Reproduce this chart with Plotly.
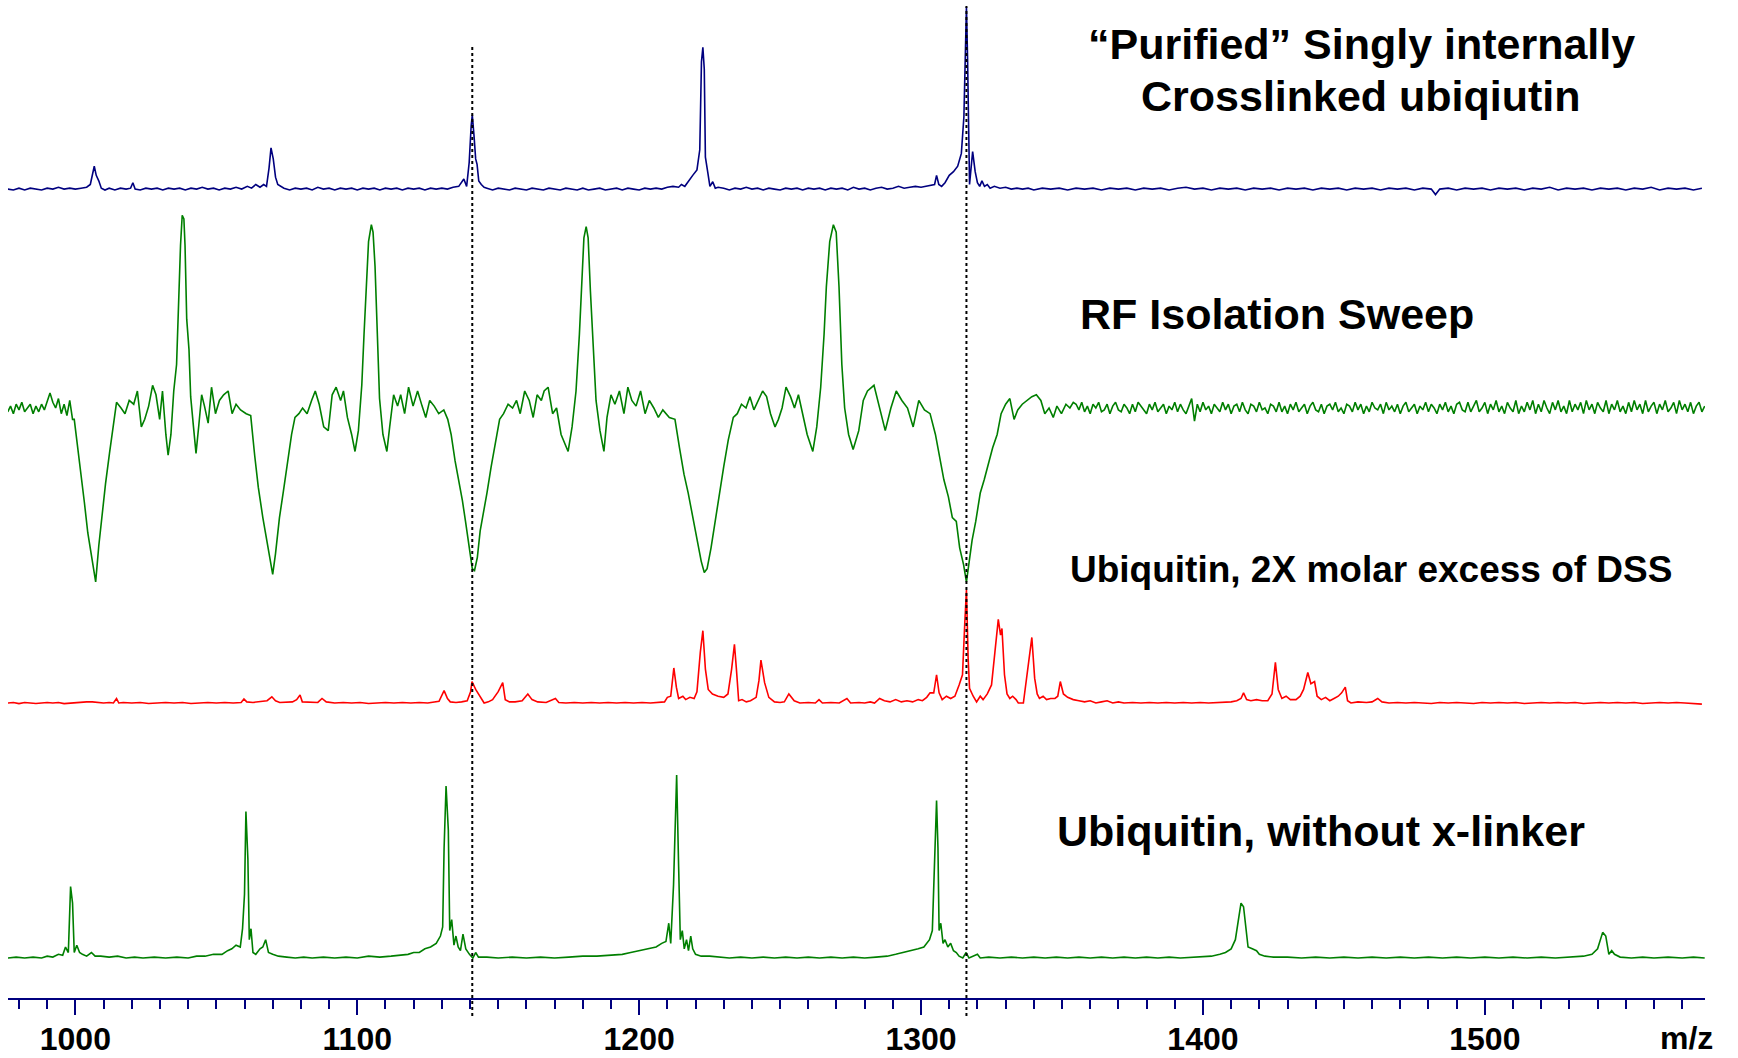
import plotly.graph_objects as go

# ---------------- data: (m/z, relative intensity %) ----------------
purified = [
    (976.0, 0.5), (978, 0), (980, 1), (982, 0), (984, 1), (986, 0.5), (988, 0), (990, 1), (992, 0.5), (994, 1.5),
    (996, 0.5), (998, 1), (1000, 0.5), (1002, 1), (1004, 1.5), (1005.3, 3), (1006.2, 10), (1006.7, 13), (1007.4, 8),
    (1008.3, 5), (1009.2, 1), (1010.5, 0), (1012, 1), (1014, 0), (1016, 1), (1018, 0.5), (1019.6, 1), (1020.4, 4),
    (1021.2, 0.5), (1023, 0), (1025, 1), (1027, 0.5), (1029, 1), (1031, 0), (1033, 1), (1035, 0.5), (1037, 1), (1039, 0),
    (1041, 1), (1043, 0.5), (1045, 1.5), (1047, 0.5), (1049, 1), (1051, 0), (1053, 1), (1055, 0.5), (1057, 1.5),
    (1059, 0.5), (1061, 2), (1062.5, 1), (1064, 3), (1065.5, 1.5), (1066.8, 3), (1067.8, 2), (1068.7, 12), (1069.4, 23),
    (1070.2, 17), (1071.0, 7), (1071.8, 3), (1072.8, 2), (1074, 1), (1076, 0), (1078, 1), (1080, 0.5), (1082, 1),
    (1084, 0), (1086, 1.5), (1088, 0.5), (1090, 1), (1092, 0), (1094, 1), (1096, 0.5), (1098, 1), (1100, 0), (1102, 1),
    (1104, 0.5), (1106, 1), (1108, 0), (1110, 1), (1112, 0.5), (1114, 1), (1116, 0), (1118, 1), (1120, 0.5), (1122, 1),
    (1124, 0), (1126, 1), (1128, 0.5), (1130, 1), (1132, 0.5), (1134, 1.5), (1136, 2), (1137.8, 6), (1138.8, 2),
    (1139.7, 15), (1140.4, 35), (1140.8, 41), (1141.4, 30), (1142.0, 17), (1142.5, 14), (1143.1, 5), (1144, 3),
    (1145, 1.5), (1146, 1), (1148, 0), (1150, 1), (1152, 0.5), (1154, 0), (1156, 1), (1158, 0.5), (1160, 0), (1162, 1),
    (1164, 0.5), (1166, 0), (1168, 1), (1170, 0.5), (1172, 0), (1174, 1), (1176, 0.5), (1178, 0), (1180, 1), (1182, 0),
    (1184, 0.5), (1186, 1), (1188, 0), (1190, 0.5), (1192, 1), (1194, 0), (1196, 1), (1198, 0.5), (1200, 0), (1202, 1),
    (1204, 0.5), (1206, 1), (1208, 0.5), (1210, 1.5), (1212, 2), (1214, 1.5), (1215, 3), (1216.2, 2), (1217.5, 5),
    (1219, 8), (1220.5, 11), (1221.5, 22), (1222.1, 70), (1222.6, 78), (1223.1, 66), (1223.5, 18), (1224.3, 10),
    (1225.1, 2), (1226.1, 4.5), (1227, 1), (1228, 1.5), (1230, 1), (1232, 0), (1234, 1), (1236, 0.5), (1238, 1.5),
    (1240, 0.5), (1242, 1), (1244, 0), (1246, 1), (1248, 0.5), (1250, 0), (1252, 1), (1254, 0.5), (1256, 1), (1258, 0),
    (1260, 1), (1262, 0.5), (1264, 1), (1266, 0), (1268, 1), (1270, 0.5), (1272, 1), (1274, 0), (1276, 1.5),
    (1278, 0.5), (1280, 1), (1282, 0), (1284, 1), (1286, 1.5), (1288, 0.5), (1290, 1), (1292, 2), (1294, 1),
    (1296, 1.5), (1298, 2), (1300, 1.5), (1302, 2), (1303.5, 2.5), (1304.8, 3), (1305.5, 8), (1306.3, 3),
    (1307.3, 2), (1308.5, 4), (1310, 8), (1311.5, 10), (1313, 13), (1314.3, 20), (1315.2, 40), (1315.8, 90),
    (1316.1, 100), (1316.5, 72), (1316.9, 30), (1317.2, 3), (1318.3, 21), (1319.2, 10), (1320, 4), (1320.8, 2),
    (1321.6, 5), (1322.5, 2), (1323.5, 3), (1324.5, 1), (1326, 2), (1328, 1), (1330, 1.5), (1332, 0.5), (1334, 1),
    (1336, 0.5), (1338, 1), (1340, 0), (1343, 1), (1346, 0.5), (1349, 1), (1352, 0), (1355, 1), (1358, 0.5), (1361, 1),
    (1364, 0), (1367, 1), (1370, 0.5), (1373, 1), (1376, 0), (1379, 1), (1382, 0.5), (1385, 1), (1388, 0), (1391, 1),
    (1394, 1.5), (1397, 0.5), (1400, 1), (1403, 0), (1406, 1), (1409, 0.5), (1412, 1), (1415, 0), (1418, 1),
    (1421, 0.5), (1424, 1), (1427, 0), (1430, 1), (1433, 0.5), (1436, 1), (1439, 0), (1442, 1), (1445, 0.5), (1448, 1),
    (1451, 0), (1454, 1), (1457, 0.5), (1460, 1), (1463, 0), (1466, 1), (1469, 0.5), (1472, 1), (1475, 0), (1478, 1),
    (1481, 0.5), (1482.5, -2.5), (1484, 0.5), (1487, 1), (1490, 0), (1493, 1), (1496, 0.5), (1499, 1), (1502, 0),
    (1505, 1), (1508, 0.5), (1511, 1), (1514, 0), (1517, 1), (1520, 0.5), (1523, 1.5), (1526, 0), (1529, 1),
    (1532, 0.5), (1535, 1), (1538, 0), (1541, 1), (1544, 0.5), (1547, 1), (1550, 0), (1553, 1), (1556, 0.5),
    (1559, 1.5), (1562, 0), (1565, 1), (1568, 0.5), (1571, 1), (1574, 0), (1577, 1),
]

rf_sweep = [
    (976, -2), (977, 1), (978, -3), (979, 2), (980, -1), (981, 3), (982, -2), (983, 0), (984, 2), (985, -3), (986, 1),
    (987, -2), (988, 2), (989, -1), (990, 4), (991, 8), (992, 3), (993, 0), (994, 5), (995, -3), (996, 2), (997, -4),
    (998, 4), (999, -6),
    (999.6, -6), (1000.8, -20), (1002.2, -36), (1003.2, -50), (1004.4, -66), (1005.8, -79), (1007.2, -92),
    (1008.3, -73), (1009.3, -59), (1010.7, -40), (1012.1, -24), (1013.7, -5),
    (1014.6, 3), (1016.2, 0), (1017.6, -3), (1019.1, 4), (1020.7, 2), (1022.0, 9), (1023.4, -10), (1024.6, -6),
    (1026.0, 1), (1027.4, 12), (1028.6, 7), (1029.9, -6), (1030.9, 9), (1032.1, -14), (1032.9, -25), (1033.9, -14),
    (1034.9, 9), (1035.9, 23), (1036.5, 52), (1037.3, 86), (1037.9, 102), (1038.5, 100), (1038.9, 86), (1039.5, 47),
    (1040.3, 31), (1040.9, 6), (1041.9, -10), (1042.8, -24), (1043.8, -9),
    (1044.8, 7), (1045.8, 1), (1047.1, -8), (1048.3, 11), (1049.7, -3), (1051.1, 4), (1052.6, 7), (1054.2, 9),
    (1055.6, -3), (1057.0, 2), (1058.6, -1), (1060.6, -3), (1062.2, -4),
    (1063.6, -25), (1064.9, -42), (1066.5, -58), (1067.9, -70), (1069.0, -81), (1070.0, -88), (1071.0, -77),
    (1072.4, -58), (1073.8, -44), (1075.3, -28), (1076.7, -14), (1077.9, -5),
    (1079.3, -3), (1080.6, 0), (1082.2, -3), (1083.8, 4), (1085.1, 9), (1086.5, 2), (1088.1, -10), (1089.7, -12),
    (1091.1, 7), (1092.5, 11), (1094.1, 4), (1095.1, 9), (1096.5, -5), (1098.0, -14), (1099.2, -23), (1100.4, -12),
    (1101.6, 12), (1102.4, 39), (1103.2, 64), (1104.0, 88), (1105.0, 97), (1105.6, 93), (1106.3, 75), (1107.1, 35),
    (1107.9, 5), (1109.1, -14), (1110.5, -23), (1111.5, -10),
    (1112.9, 7), (1114.3, 1), (1115.4, 7), (1116.8, -3), (1118.2, 11), (1119.8, 1), (1121.4, 9), (1123.0, 1),
    (1124.3, -5), (1125.7, 4), (1127.3, 1), (1128.9, -3), (1130.7, -1), (1132.1, -6),
    (1133.3, -14), (1134.7, -28), (1136.1, -39), (1137.3, -49), (1138.4, -60), (1139.6, -72), (1140.8, -85),
    (1141.6, -86), (1142.6, -79), (1143.6, -65), (1144.8, -56), (1146.0, -45), (1147.5, -31), (1149.1, -17),
    (1150.5, -6),
    (1151.9, -3), (1153.5, 2), (1155.1, 0), (1156.5, 4), (1157.8, -3), (1159.4, 9), (1161.0, 4), (1162.4, -5),
    (1163.8, 7), (1165.3, 4), (1166.3, 9), (1167.7, 11), (1169.3, -3), (1170.7, 0), (1172.3, -14), (1173.6, -19),
    (1174.8, -23), (1176.2, -10),
    (1177.6, 9), (1178.8, 39), (1179.6, 64), (1180.4, 90), (1181.2, 96), (1181.9, 90), (1182.7, 62), (1183.5, 39),
    (1184.7, 4), (1186.1, -12), (1187.5, -23), (1188.6, -5),
    (1190.0, 7), (1191.4, 2), (1193.0, 9), (1194.6, -3), (1196.0, 11), (1197.4, 4), (1198.9, 1), (1200.5, 9),
    (1202.1, -3), (1203.6, 4), (1205.2, 0), (1206.8, -5), (1208.4, -1), (1210.7, -5), (1212.7, -6),
    (1214.3, -21), (1215.9, -35), (1217.4, -45), (1219.0, -58), (1220.6, -69), (1222.0, -81), (1223.1, -87),
    (1224.1, -85), (1225.5, -74), (1226.9, -60), (1228.5, -45), (1230.0, -31), (1231.6, -17), (1233.4, -5),
    (1234.8, -3), (1236.3, 2), (1237.9, 0), (1239.3, 6), (1240.7, -1), (1242.3, 4), (1243.8, 9), (1245.2, 6),
    (1246.6, -3), (1248.2, -10), (1249.4, -6), (1250.7, 0), (1252.1, 11), (1253.7, 6), (1255.1, 0), (1256.5, 7),
    (1258.0, -3), (1259.6, -14), (1261.6, -23), (1263.0, -10),
    (1264.4, 11), (1265.6, 39), (1266.4, 64), (1267.6, 88), (1268.9, 97), (1269.9, 93), (1270.9, 64), (1271.9, 23),
    (1272.9, 0), (1274.3, -14), (1275.9, -22), (1277.9, -12), (1279.5, 4), (1281.0, 9),
    (1283.3, 12), (1285.3, 0), (1287.3, -12), (1289.3, 0), (1291.2, 9), (1293.2, 4), (1295.2, 0), (1297.2, -10),
    (1299.2, 4), (1301.2, -1), (1303.2, -3),
    (1305.1, -14), (1306.5, -25), (1308.1, -38), (1309.7, -47), (1311.1, -58), (1312.5, -60), (1313.7, -74),
    (1315.1, -83), (1316.1, -92), (1317.1, -81), (1318.1, -70), (1319.4, -60), (1321.0, -45), (1322.4, -38),
    (1324.0, -29), (1325.4, -21), (1327.0, -14), (1328.4, -3), (1330.0, 2), (1331.5, 5), (1333.0, -6), (1334.3, -1),
    (1335.9, 2), (1337.5, 4), (1339.3, 6), (1340.9, 7), (1342.5, 4), (1343.9, -3), (1345.4, 0), (1346.9, -5),
    (1348.2, 1), (1349.8, -3), (1351.4, 2), (1352.8, 0), (1354.0, 3),
]
# flat, noisy tail of the RF sweep: one reading per m/z from 1355 to 1578
rf_tail_start = 1355
rf_tail_values = [
    2, -1, 3, -2, 1, -3, 2, 0, 3, -2, -1, 2, -3, 1, 3, -1, -2, 2, 0, -3,
    2, -2, 3, 1, -1, -3, 2, -1, 3, -2, 0, 2, -3, 1, -1, 3, -2, 2, -1, -3,
    1, 5, -7, 2, -2, 3, -1, 1, -3, 2, 0, -2, 3, -1, 2, -3, 1, 2, -2, 3,
    -1, -3, 2, 1, -2, 3, -1, 0, -3, 2, 1, -2, 3, -2, 1, -3, 2, -1, 3, -2,
    0, 2, -3, 1, 3, -1, -2, 2, -3, 1, 2, -1, 3, -2, 0, -3, 2, 1, -2, 3,
    -1, 2, -3, 1, -2, 3, 0, -1, 2, -3, 3, -1, 1, -2, 2, -3, 1, 3, -2, 0,
    2, -3, 1, -1, 3, -2, 2, 0, -3, 2, -1, 3, -2, 1, -3, 2, 3, -1, -2, 3,
    -2, 1, 4, -2, 0, 3, -3, 2, -1, 4, -2, 1, -3, 3, 0, -2, 4, -3, 1, -2,
    3, -1, 4, -3, 2, -2, 4, 0, -3, 3, -1, 4, -2, 1, -3, 4, -2, 2, -1, 3,
    -3, 4, -1, 2, -3, 3, 0, -2, 4, -3, 2, -1, 4, -2, 1, -3, 3, -2, 4, -1,
    2, -3, 4, -2, 1, 3, -3, 2, -1, 4, -2, 0, 3, -3, 4, -1, 2, -2, 3, -3,
    1, 3, -2, 1,
]

dss_2x = [
    (976, 0), (978, 0.5), (980, -0.5), (982, 0.5), (984, 0), (986, -0.5), (988, 0), (990, 0.5), (992, 0), (994, 0.5),
    (996, -0.5), (998, 0), (1000, 0.5), (1002, 1), (1004, 1), (1006, 1), (1008, 0.5), (1010, 0), (1012, 0.5),
    (1013.5, 0), (1014.6, 4), (1015.4, 0), (1017, 0.5), (1020, 0), (1023, 0.5), (1026, -0.5), (1029, 0), (1032, 0.5),
    (1035, 0), (1038, 0.5), (1041, -0.5), (1044, 0), (1047, 0.5), (1050, 0), (1053, 0.5), (1056, 0), (1058.8, 0.5),
    (1059.8, 3.5), (1060.8, 1), (1063, 0.5), (1066, 1), (1068, 2), (1069.7, 5.5), (1071, 2), (1072.5, 0.5),
    (1075, 0.5), (1077, 1), (1078.5, 3), (1079.7, 7), (1080.5, 1), (1083, 0.5), (1086, 0.5), (1087.5, 4), (1089, 1),
    (1092, 0), (1095, 0.5), (1098, 0), (1101, 0.5), (1104, -0.5), (1107, 0), (1110, 0.5), (1113, 0), (1116, 0.5),
    (1119, 0), (1122, 0.5), (1125, 0), (1127, 0.5), (1129, 1.5), (1130.8, 11), (1132, 4), (1133, 1), (1135, 0.5),
    (1137, 1), (1139, 2), (1140.2, 10), (1140.7, 19), (1142, 12), (1143.5, 6), (1145, 0), (1146.5, 1), (1148, 3),
    (1150, 10), (1151.6, 18), (1152.5, 3), (1154, 1), (1156, 1), (1158.5, 2), (1160.5, 8), (1162, 3), (1164, 1),
    (1167, 0.5), (1170.3, 4), (1171.5, 0.5), (1174, 0), (1177, 0.5), (1180, 0), (1183, 0.5), (1186, 0), (1189, 0.5),
    (1192, 0), (1195, 0.5), (1198, 0), (1201, 0.5), (1204, 0), (1207, 0.5), (1209, 1), (1210, 5), (1211.2, 6),
    (1212.3, 31), (1213.2, 14), (1214, 4), (1215.5, 6), (1216.5, 3), (1218, 5), (1219.5, 4), (1220.5, 10),
    (1221.7, 45), (1222.6, 64), (1223.5, 30), (1224.5, 12), (1226, 8), (1228, 6), (1230, 5), (1231.5, 8),
    (1232.8, 30), (1233.8, 52), (1234.5, 30), (1235.3, 2), (1236.5, 3), (1238, 1), (1239.5, 2), (1241.5, 5),
    (1242.5, 20), (1243.2, 38), (1244.5, 18), (1246, 5), (1248, 1), (1250, 0.5), (1251.5, 1), (1253.1, 8), (1255, 2),
    (1257, 0), (1260, 0.5), (1262.5, 0), (1263.8, 3), (1265, 0), (1268, 0.5), (1271, 0), (1273.7, 4), (1275, 0),
    (1278, 0.5), (1280, 0), (1282, 1), (1283.5, 0), (1285.3, 4), (1287, 2), (1289, 1), (1291, 3), (1293, 1), (1295, 2),
    (1297, 1), (1299, 3), (1300.5, 2), (1302, 5), (1303.2, 9), (1304.5, 9), (1305.5, 25), (1306.4, 9), (1307.5, 3),
    (1309, 6), (1310.5, 4), (1312, 6), (1313.5, 16), (1314.7, 25), (1315.5, 70), (1316.1, 100), (1316.7, 40),
    (1317.2, 13), (1318.5, 6), (1319.7, 1), (1321, 6), (1322, 3), (1323.5, 8), (1325, 16), (1326.2, 45),
    (1327.4, 74), (1328.2, 60), (1328.7, 66), (1329.6, 25), (1330.5, 8), (1331.5, 4), (1332.5, 6), (1333.7, 3),
    (1334.5, 0), (1336.3, 0), (1337.6, 25), (1339.3, 58), (1340.3, 22), (1341.2, 8), (1342, 4), (1343.3, 6),
    (1344.5, 3), (1346, 4), (1347.5, 4), (1348.5, 6), (1349.4, 19), (1350.5, 8), (1352, 5), (1354, 3), (1356, 2),
    (1358, 1), (1360, 2), (1362, 0), (1364, 1), (1366, 2), (1368, 0), (1370, 1), (1372, 0), (1375, 0.5), (1378, 0),
    (1381, 0.5), (1384, 0), (1387, 0.5), (1390, 0), (1393, 0.5), (1396, 0), (1399, 0.5), (1402, 0), (1405, 0.5),
    (1408, 0.5), (1410, 1), (1412, 2), (1413.5, 4), (1414.4, 9), (1415.5, 3), (1417, 2), (1419, 3), (1421, 2),
    (1423, 2), (1424.5, 8), (1425.7, 36), (1426.7, 12), (1428, 4), (1429.5, 6), (1431, 3), (1433, 3), (1434.5, 6),
    (1435.7, 12), (1437.2, 27), (1438.3, 17), (1439.6, 19), (1440.5, 6), (1442, 3), (1443.5, 5), (1445, 2),
    (1446.5, 4), (1448, 6), (1449.2, 9), (1450.5, 14), (1451.3, 2), (1452.5, 0), (1455, 1), (1458, 0.5), (1460, 1),
    (1462, 4), (1463.5, 1), (1466, 0), (1469, 0.5), (1472, 0), (1475, 0.5), (1478, 0), (1481, -0.5), (1484, 0.5),
    (1487, 0), (1490, 0.5), (1493, 0), (1496, -0.5), (1499, 0.5), (1502, 0), (1505, 0.5), (1508, 0), (1511, 0.5),
    (1514, -0.5), (1517, 0), (1520, 0.5), (1523, 0), (1526, 0.5), (1529, 0), (1532, 0.5), (1535, -0.5), (1538, 0),
    (1541, 0.5), (1544, 0), (1547, 0.5), (1550, 0), (1553, 0.5), (1556, -0.5), (1559, 0), (1562, 0.5), (1565, 0),
    (1568, 0.5), (1571, 0), (1574, -0.5), (1577, -1),
]

no_linker = [
    (976, 0), (979, 0.5), (982, 0), (985, 0.5), (988, 0), (990, 1), (992, 0.5), (994, 2), (995.5, 1.5), (996.5, 6),
    (997.5, 3), (998.0, 20), (998.3, 39), (999.0, 30), (999.6, 3), (1000.5, 7), (1001.5, 3), (1002.5, 2), (1004, 1),
    (1005.7, 3), (1007, 1), (1009, 1), (1012, 0.5), (1015, 1), (1018, 0), (1021, 0.5), (1024, 0), (1028, 0.5),
    (1032, 0), (1036, 0.5), (1040, 0), (1043, 1), (1046, 1), (1049, 2), (1052, 2), (1054, 4), (1055.5, 5), (1057, 7),
    (1058.5, 6), (1059.3, 16), (1060.0, 35), (1060.5, 80), (1061.2, 54), (1061.7, 10), (1062.3, 16), (1063, 3),
    (1064, 2), (1065.5, 5), (1066.5, 6), (1067.5, 10), (1068.5, 3), (1070, 2), (1072, 1), (1075, 0.5), (1078, 0),
    (1081, 0.5), (1084, 0), (1088, 0.5), (1092, 0), (1096, 0.5), (1100, 0), (1104, 1), (1108, 0.5), (1112, 1),
    (1115, 1.5), (1118, 2), (1120, 3), (1122, 3), (1124, 5), (1126, 6), (1128, 8), (1129.5, 12), (1130.3, 17),
    (1130.8, 60), (1131.5, 94), (1132.3, 70), (1132.8, 15), (1133.5, 21), (1134.3, 7), (1135, 12), (1135.8, 6),
    (1136.6, 4), (1137.5, 13), (1138.5, 5), (1139.8, 2), (1141, 0), (1142, 3), (1143, 0.5), (1146, 0.5), (1150, 0),
    (1155, 0.5), (1160, 0), (1165, 0.5), (1170, 0), (1175, 0.5), (1180, 1), (1185, 1), (1190, 1.5), (1194, 2),
    (1197, 3), (1200, 4), (1203, 5), (1206, 6), (1208, 8), (1209.5, 9), (1210.5, 19), (1211.2, 8), (1212.2, 40),
    (1213.3, 100), (1214, 50), (1214.6, 10), (1215.3, 15), (1216, 5), (1216.8, 10), (1217.5, 4), (1218.3, 12),
    (1219, 5), (1220, 2), (1222, 1), (1225, 1), (1228, 0.5), (1232, 0), (1236, 0.5), (1240, 0), (1244, 0.5),
    (1248, 0), (1252, 0.5), (1256, 0), (1260, 0.5), (1264, 0), (1268, 0.5), (1272, 0), (1276, 0.5), (1280, 0),
    (1284, 0.5), (1288, 1), (1291, 2), (1294, 3), (1297, 4), (1299, 5), (1301, 6), (1303, 10), (1304, 15),
    (1304.8, 50), (1305.5, 86), (1306.0, 60), (1306.4, 15), (1307, 19), (1307.8, 8), (1308.5, 10), (1309.5, 6),
    (1310.5, 8), (1311.5, 4), (1312.5, 3), (1313.5, 1), (1314.8, 0), (1316, 3), (1317, 0), (1318.5, 1), (1320, 2),
    (1321, 0), (1324, 0.5), (1328, 0), (1332, 0.5), (1336, 0), (1340, 0.5), (1344, 0), (1348, 0.5), (1352, 0),
    (1356, 0.5), (1360, 0), (1364, 0.5), (1368, 0), (1372, 0.5), (1376, 0), (1380, 0.5), (1384, 0), (1388, 0.5),
    (1392, 0), (1396, 0.5), (1400, 1), (1403, 1), (1406, 2), (1408, 3), (1410, 5), (1411.5, 10), (1412.5, 20),
    (1413.5, 30), (1414.4, 28), (1415, 20), (1416, 6), (1417.5, 5), (1419, 4), (1420, 2), (1422, 1), (1425, 0.5),
    (1430, 0.5), (1435, 0), (1440, 0.5), (1445, 0), (1450, 0.5), (1455, 0), (1460, 0.5), (1465, 0), (1470, 0.5),
    (1475, 0), (1480, 0.5), (1485, 0), (1490, 0.5), (1495, 0), (1500, 0.5), (1505, 0), (1510, 0.5), (1515, 0),
    (1520, 0.5), (1525, 0), (1530, 0.5), (1535, 1), (1538, 2), (1540, 5), (1541.8, 14), (1542.9, 12), (1544, 2),
    (1545, 4), (1546, 2), (1548, 0.5), (1552, 0), (1556, 0.5), (1560, 0), (1565, 0.5), (1570, 0), (1574, 0.5),
    (1578, 0),
]

series_names = ["Purified singly internally crosslinked", "RF isolation sweep",
                "Ubiquitin + 2X DSS", "Ubiquitin, no x-linker"]
tick_vals = [1000, 1100, 1200, 1300, 1400, 1500]
tick_text = ["1000", "1100", "1200", "1300", "1400", "1500"]
marker_mz = [1140.8, 1316.1]

rf_full = rf_sweep + [(rf_tail_start + k, v) for k, v in enumerate(rf_tail_values)]

# ---------------- layout constants ----------------
W, H = 1738, 1058
ML, MR, MT, MB = 8, 33, 0, 60
PW, PH = W - ML - MR, H - MT - MB
X_RANGE = [976.1, 1578.1]
FONT = "Liberation Sans, Arial, sans-serif"

# (series, colour, baseline pixel, pixels per intensity unit)
stack = [
    (purified, "#00007F", 190, 1.83),
    (rf_full, "#007F00", 408, 1.89),
    (dss_2x, "#FF0000", 703, 1.13),
    (no_linker, "#007F00", 958, 1.83),
]


def px_x(px):
    return (px - ML) / PW


def px_y(py):
    return (MT + PH - py) / PH


fig = go.Figure()
layout_axes = {}
for i, (data, color, base, scale) in enumerate(stack):
    xs = [p[0] for p in data]
    ys = [p[1] for p in data]
    yname = "y" if i == 0 else f"y{i + 1}"
    fig.add_trace(go.Scatter(x=xs, y=ys, mode="lines", name=series_names[i],
                             line=dict(color=color, width=1.6), yaxis=yname,
                             showlegend=False, hoverinfo="skip"))
    key = "yaxis" if i == 0 else f"yaxis{i + 1}"
    ax = dict(range=[-(PH - base) / scale, base / scale], visible=False,
              domain=[0, 1], fixedrange=True, showgrid=False, zeroline=False,
              automargin=False)
    if i > 0:
        ax["overlaying"] = "y"
    layout_axes[key] = ax

# dotted reference lines
line_tops = [47, 6]
for mz, top in zip(marker_mz, line_tops):
    fig.add_shape(type="line", xref="x", yref="paper", x0=mz, x1=mz,
                  y0=px_y(1016), y1=px_y(top), layer="above",
                  line=dict(color="black", width=2, dash="dot"))

labels = [
    ("\u201cPurified\u201d Singly internally", 1361, 44, 43),
    ("Crosslinked ubiqiutin", 1361, 96, 43),
    ("RF Isolation Sweep", 1277, 314, 43),
    ("Ubiquitin, 2X molar excess of DSS", 1371, 569, 37),
    ("Ubiquitin, without x-linker", 1321, 831, 43),
    ("m/z", 1686, 1038, 32),
]
for text, cx, cy, size in labels:
    fig.add_annotation(text=text, xref="paper", yref="paper", x=px_x(cx), y=px_y(cy),
                       xanchor="center", yanchor="middle", showarrow=False,
                       font=dict(family=FONT, size=size, color="black", weight="bold"))

fig.update_layout(
    width=W, height=H, margin=dict(l=ML, r=MR, t=MT, b=MB, pad=0, autoexpand=False),
    paper_bgcolor="white", plot_bgcolor="white",
    xaxis=dict(range=X_RANGE, showgrid=False, zeroline=False, showline=True,
               linecolor="#00007F", linewidth=2, ticks="outside", ticklen=15,
               tickwidth=2, tickcolor="#00007F", tickvals=tick_vals, ticktext=tick_text,
               tickfont=dict(family=FONT, size=32, color="black", weight="bold"),
               ticklabelstandoff=-3, automargin=False,
               minor=dict(dtick=10, tick0=1000, ticks="outside", ticklen=9, tickwidth=1.5,
                          tickcolor="#00007F", showgrid=False),
               fixedrange=True),
    **layout_axes,
)

fig.write_html("out.html", config={"displayModeBar": False},
               post_script="document.body.style.margin='0px';")
